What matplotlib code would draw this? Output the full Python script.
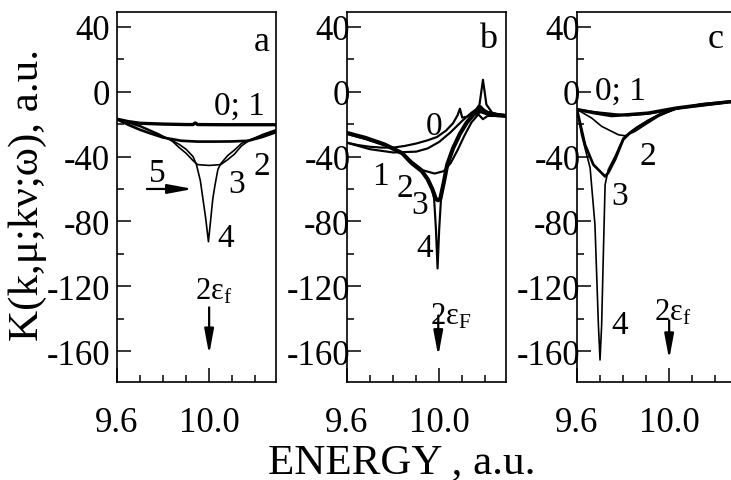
import numpy as np
import matplotlib
matplotlib.use("Agg")
import matplotlib.pyplot as plt
from matplotlib.ticker import MultipleLocator, FixedLocator

plt.rcParams['font.family'] = ['Liberation Serif', 'DejaVu Serif']
plt.rcParams['mathtext.fontset'] = 'custom'
plt.rcParams['mathtext.rm'] = 'Liberation Serif'
plt.rcParams['mathtext.it'] = 'Liberation Serif:italic'
plt.rcParams['axes.unicode_minus'] = False

# ---- panel a ----
a0_x = [9.60, 9.65, 9.70, 9.80, 9.90, 9.93, 9.94, 9.95, 10.05, 10.15, 10.29]
a0_y = [-17, -18.5, -19.5, -20, -20.3, -20.3, -19.3, -20.3, -20.4, -20.4, -20.4]
a2_x = [9.60, 9.65, 9.70, 9.74, 9.80, 9.88, 9.95, 10.03, 10.10, 10.17, 10.23, 10.29]
a2_y = [-17, -20.5, -23.5, -25.5, -28.3, -30.3, -30.8, -30.8, -30.7, -30.3, -28, -25]
a3_x = [9.60, 9.70, 9.78, 9.84, 9.87, 9.90, 9.93, 9.95, 10.00, 10.05, 10.08, 10.11,
        10.14, 10.17, 10.23, 10.29]
a3_y = [-17, -21, -26, -30.5, -34.5, -38, -42.5, -45, -45.5, -45, -42, -38.5,
        -33.5, -30.5, -26.5, -23.5]
a4_x = [9.60, 9.70, 9.78, 9.83, 9.87, 9.90, 9.93, 9.945, 9.962, 9.972, 9.985, 9.997,
        10.006, 10.016, 10.025, 10.038, 10.05, 10.08, 10.11, 10.14, 10.17, 10.23, 10.29]
a4_y = [-17, -21.5, -26.5, -29.5, -32.5, -35.5, -40, -45, -55, -65, -78, -92.5,
        -80, -66, -58, -48, -44.5, -39.5, -36, -32, -30, -27, -24]

# ---- panel b ----
b0_x = [9.60, 9.65, 9.70, 9.75, 9.80, 9.85, 9.90, 9.95, 9.99, 10.03, 10.06, 10.08,
        10.09, 10.10, 10.12, 10.15, 10.18, 10.21, 10.25, 10.29]
b0_y = [-31.5, -33, -34, -34.5, -34.5, -33.5, -32, -30, -28, -24, -19.5, -14.5,
        -10.5, -16, -15.5, -13, -10, -12.5, -14, -14.5]
b1_x = [9.60, 9.70, 9.80, 9.90, 9.95, 10.00, 10.05, 10.10, 10.14, 10.18, 10.20, 10.24, 10.29]
b1_y = [-31.5, -35.5, -37.5, -37, -35, -31, -25, -18, -13, -9, -12, -14, -14.5]
b2_x = [9.60, 9.70, 9.78, 9.83, 9.88, 9.93, 9.98, 10.02, 10.05, 10.08, 10.11, 10.14,
        10.17, 10.19, 10.21, 10.24, 10.29]
b2_y = [-26, -30, -33.5, -37, -43, -48.5, -50.5, -49, -44, -36, -27, -19,
        -14, -17, -15, -15, -15]
b3_x = [9.60, 9.68, 9.765, 9.84, 9.88, 9.925, 9.95, 9.97, 9.985, 9.995, 10.005, 10.02,
        10.035, 10.06, 10.09, 10.12, 10.15, 10.18, 10.21, 10.25, 10.29]
b3_y = [-25.5, -28.5, -32.7, -38, -44, -49, -54, -60, -66, -67, -66, -56,
        -45, -35, -26, -19, -14, -12, -13.5, -14.5, -15]
b4_x = [9.60, 9.68, 9.765, 9.84, 9.88, 9.925, 9.95, 9.97, 9.978, 9.986, 9.993, 10.0,
        10.008, 10.02, 10.035, 10.06, 10.09, 10.12, 10.15, 10.175, 10.19, 10.205,
        10.23, 10.29]
b4_y = [-25.5, -28.5, -32.7, -38, -44, -49, -54, -60, -66, -85, -109, -85,
        -66, -56, -45, -35, -26, -19, -13, -8, 7.3, -8,
        -13, -15]

# ---- panel c ----
c0_x = [9.60, 9.68, 9.75, 9.82, 9.91, 10.03, 10.14, 10.29]
c0_y = [-11, -13.2, -14.8, -14.2, -13.2, -10.1, -8.1, -5.8]
c1_x = [9.60, 9.68, 9.75, 9.82, 9.91, 10.03, 10.14, 10.29]
c1_y = [-11, -12.5, -13.5, -14.8, -13.8, -10.8, -7.5, -5.5]
c2_x = [9.60, 9.664, 9.707, 9.78, 9.809, 9.852, 9.896, 9.953, 10.03, 10.14, 10.29]
c2_y = [-11, -16.3, -21.4, -26.6, -27.2, -24.5, -20.4, -15.3, -10.5, -8, -6]
c3_x = [9.60, 9.635, 9.671, 9.722, 9.736, 9.765, 9.801, 9.83, 9.859, 9.91, 9.96, 10.03, 10.29]
c3_y = [-11, -32.7, -45, -52.3, -50, -42, -29.5, -25.5, -22.4, -18, -14, -10.5, -6]
c4_x = [9.60, 9.62, 9.657, 9.678, 9.693, 9.70, 9.707, 9.714, 9.722, 9.736, 9.765,
        9.801, 9.83, 9.859, 9.91, 9.96, 10.03, 10.29]
c4_y = [-11, -26.6, -47, -82, -144, -165.4, -144, -102.7, -57.4, -48, -40,
        -28.5, -25, -22, -17.5, -14, -10.3, -6]

yticks = [40, 0, -40, -80, -120, -160]
xticks = [9.6, 10.0]

fig = plt.figure(figsize=(7.31, 4.81), dpi=100)
W = 0.2175
axa = fig.add_axes([0.160, 0.2037, W, 0.769])
axb = fig.add_axes([0.4747, 0.2037, W, 0.769])
axc = fig.add_axes([0.7893, 0.2037, W, 0.769])

thin = 1.2
thick = 2.4

axa.plot(a0_x, a0_y, 'k-', lw=thick)
axa.plot(a2_x, a2_y, 'k-', lw=thick * 0.8)
axa.plot(a3_x, a3_y, 'k-', lw=thin)
axa.plot(a4_x, a4_y, 'k-', lw=thin)

axb.plot(b0_x, b0_y, 'k-', lw=thin * 1.3)
axb.plot(b1_x, b1_y, 'k-', lw=thin * 1.3)
axb.plot(b2_x, b2_y, 'k-', lw=thin * 1.3)
axb.plot(b3_x, b3_y, 'k-', lw=3.0)
axb.plot(b4_x, b4_y, 'k-', lw=thin * 1.3)

axc.plot(c0_x, c0_y, 'k-', lw=thick)
axc.plot(c1_x, c1_y, 'k-', lw=thin)
axc.plot(c2_x, c2_y, 'k-', lw=thin)
axc.plot(c3_x, c3_y, 'k-', lw=thick * 0.8)
axc.plot(c4_x, c4_y, 'k-', lw=thin)

for ax, ypad in [(axa, 5), (axb, -2.5), (axc, -2.5)]:
    ax.set_xlim(9.6, 10.29)
    ax.set_ylim(-179, 49)
    ax.xaxis.set_major_locator(FixedLocator(xticks))
    ax.xaxis.set_minor_locator(MultipleLocator(0.1))
    ax.yaxis.set_major_locator(FixedLocator(yticks))
    ax.yaxis.set_minor_locator(MultipleLocator(20))
    ax.set_xticklabels(['9.6', '10.0'])
    ax.set_yticklabels([str(v) for v in yticks])
    ax.tick_params(which='both', direction='in', width=1.1, top=False, right=False,
                   labelsize=25)
    ax.tick_params(which='major', length=10)
    ax.tick_params(which='minor', length=5)
    ax.tick_params(axis='x', which='major', pad=17)
    ax.tick_params(axis='y', which='major', pad=ypad)
    for s in ax.spines.values():
        s.set_linewidth(1.2)

fs = 24
arrow = dict(arrowstyle='-|>,head_length=0.75,head_width=0.14', color='k', lw=1.6,
             mutation_scale=20, shrinkA=0, shrinkB=0)

# panel a labels
axa.text(10.23, 31, 'a', fontsize=26, ha='center', va='center')
axa.text(10.13, -8.6, '0; 1', fontsize=fs, ha='center', va='center')
axa.text(10.23, -45.6, '2', fontsize=fs, ha='center', va='center')
axa.text(10.12, -57, '3', fontsize=fs, ha='center', va='center')
axa.text(10.07, -90, '4', fontsize=fs, ha='center', va='center')
axa.text(9.774, -50, '5', fontsize=fs, ha='center', va='center')
axa.annotate('', xy=(9.93, -60), xytext=(9.73, -60), arrowprops=arrow)
axa.annotate('', xy=(10.0, -162), xytext=(10.0, -133), arrowprops=arrow)
axa.text(9.94, -132, r'2ε$_\mathrm{f}$', fontsize=22, ha='left', va='bottom')

# panel b labels
axb.text(10.21, 33, 'b', fontsize=26, ha='center', va='center')
axb.text(9.978, -21, '0', fontsize=fs, ha='center', va='center')
axb.text(9.743, -52, '1', fontsize=fs, ha='center', va='center')
axb.text(9.852, -59, '2', fontsize=fs, ha='center', va='center')
axb.text(9.917, -70, '3', fontsize=fs, ha='center', va='center')
axb.text(9.935, -96, '4', fontsize=fs, ha='center', va='center')
axb.annotate('', xy=(9.996, -163), xytext=(9.996, -138), arrowprops=arrow)
axb.text(9.962, -147, r'2ε$_\mathrm{F}$', fontsize=22, ha='left', va='bottom')

# panel c labels
axc.text(10.2, 33, 'c', fontsize=26, ha='center', va='center')
axc.text(9.787, 0.6, '0; 1', fontsize=fs, ha='center', va='center')
axc.text(9.909, -39.5, '2', fontsize=fs, ha='center', va='center')
axc.text(9.787, -64, '3', fontsize=fs, ha='center', va='center')
axc.text(9.787, -144, '4', fontsize=fs, ha='center', va='center')
axc.annotate('', xy=(10.0, -165), xytext=(10.0, -141), arrowprops=arrow)
axc.text(9.936, -145, r'2ε$_\mathrm{f}$', fontsize=22, ha='left', va='bottom')

fig.text(0.038, 0.595, 'K(k,μ;kν;ω), a.u.', rotation=90, fontsize=31,
         ha='center', va='center')
fig.text(0.55, 0.037, 'ENERGY , a.u.', fontsize=31, ha='center', va='center')

fig.savefig('out.png', dpi=100)
